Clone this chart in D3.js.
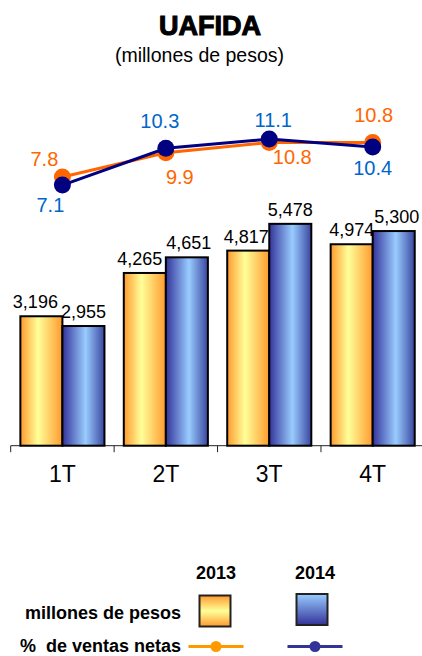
<!DOCTYPE html>
<html>
<head>
<meta charset="utf-8">
<script src="https://cdn.jsdelivr.net/npm/d3@7"></script>
<style>
  html, body { margin: 0; padding: 0; background: #fff; }
  svg { display: block; font-family: "Liberation Sans", Arial, sans-serif; }
</style>
</head>
<body>
<svg id="chart" width="422" height="656"></svg>
<script>
// ---- data ----
const categories = ["1T", "2T", "3T", "4T"];
const years = ["2013", "2014"];
const amounts2013 = [3196, 4265, 4817, 4974];
const amounts2014 = [2955, 4651, 5478, 5300];
const pct2013 = [7.8, 9.9, 10.8, 10.8];
const pct2014 = [7.1, 10.3, 11.1, 10.4];
const amountLabels2013 = ["3,196", "4,265", "4,817", "4,974"];
const amountLabels2014 = ["2,955", "4,651", "5,478", "5,300"];

// ---- layout (label placement offsets, not data) ----
const pctLabelOffset2013 = [[-18, -11], [14, 31], [23, 21], [1, -21]];
const pctLabelOffset2014 = [[-12, 27], [-6, -20], [4, -12], [0, 28]];
const amtLabelDx2013 = [-6, -5, -2, 0];
const amtLabelDx2014 = [0, 2, 0, 3];

const svg = d3.select("#chart");
const defs = svg.append("defs");

function hGrad(id, stops) {
  const g = defs.append("linearGradient").attr("id", id)
    .attr("x1", "0%").attr("y1", "0%").attr("x2", "100%").attr("y2", "0%");
  stops.forEach(s => g.append("stop").attr("offset", s[0]).attr("stop-color", s[1]));
}
function vGrad(id, stops) {
  const g = defs.append("linearGradient").attr("id", id)
    .attr("x1", "0%").attr("y1", "0%").attr("x2", "0%").attr("y2", "100%");
  stops.forEach(s => g.append("stop").attr("offset", s[0]).attr("stop-color", s[1]));
}
hGrad("gOrange", [["0%", "#FF9A2E"], ["42%", "#FFFF99"], ["100%", "#FF9A2E"]]);
hGrad("gBlue", [["0%", "#333399"], ["55%", "#99CCFF"], ["100%", "#3A46A0"]]);
vGrad("gOrangeV", [["0%", "#FF9A2E"], ["50%", "#FFFF99"], ["100%", "#FF9A2E"]]);
vGrad("gBlueV", [["0%", "#99CCFF"], ["100%", "#333399"]]);

// ---- title ----
svg.append("text").attr("x", 210).attr("y", 34.5).attr("text-anchor", "middle")
  .attr("font-size", 27).attr("font-weight", "bold")
  .attr("stroke", "#000").attr("stroke-width", 1.1).attr("fill", "#000")
  .text("UAFIDA");
svg.append("text").attr("x", 199.5).attr("y", 61.5).attr("text-anchor", "middle")
  .attr("font-size", 19.5).attr("fill", "#000")
  .text("(millones de pesos)");

// ---- scales ----
const x = d3.scaleBand().domain(categories).range([10.7, 424.4]).padding(0);
const xSub = d3.scaleBand().domain(years).range([0, x.bandwidth()])
  .paddingInner(0).paddingOuter(0.23);
const yBar = d3.scaleLinear().domain([0, 6000]).range([445.7, 202.7]);
const yPct = d3.scaleLinear().domain([0, 14]).range([266.7, 105.7]);

// ---- axis ----
const axisG = svg.append("g").attr("transform", `translate(0,${yBar(0)})`);
axisG.append("line").attr("x1", 10.7).attr("x2", 422).attr("y1", 0).attr("y2", 0)
  .attr("stroke", "#222").attr("stroke-width", 1);
axisG.selectAll("line.tick").data(categories).enter().append("line")
  .attr("class", "tick")
  .attr("x1", d => x(d)).attr("x2", d => x(d)).attr("y1", 0).attr("y2", 6.5)
  .attr("stroke", "#222").attr("stroke-width", 1);
axisG.selectAll("text.cat").data(categories).enter().append("text")
  .attr("class", "cat")
  .attr("x", d => x(d) + x.bandwidth() / 2).attr("y", 36.6)
  .attr("text-anchor", "middle").attr("font-size", 23).attr("fill", "#000")
  .text(d => d);

// ---- bars ----
const barSeries = [
  { year: "2013", values: amounts2013, labels: amountLabels2013, fill: "url(#gOrange)", dx: amtLabelDx2013 },
  { year: "2014", values: amounts2014, labels: amountLabels2014, fill: "url(#gBlue)", dx: amtLabelDx2014 }
];
barSeries.forEach(s => {
  const g = svg.append("g");
  g.selectAll("rect").data(s.values).enter().append("rect")
    .attr("x", (d, i) => x(categories[i]) + xSub(s.year))
    .attr("y", d => yBar(d))
    .attr("width", xSub.bandwidth())
    .attr("height", d => yBar(0) - yBar(d))
    .attr("fill", s.fill).attr("stroke", "#000").attr("stroke-width", 2);
  g.selectAll("text").data(s.values).enter().append("text")
    .attr("x", (d, i) => x(categories[i]) + xSub(s.year) + xSub.bandwidth() / 2 + s.dx[i])
    .attr("y", d => yBar(d) - 8)
    .attr("text-anchor", "middle").attr("font-size", 18).attr("fill", "#000")
    .text((d, i) => s.labels[i]);
});

// ---- lines ----
const cx = c => x(c) + x.bandwidth() / 2;
const lineSeries = [
  { values: pct2013, color: "#FF6600", text: "#FF6600", off: pctLabelOffset2013 },
  { values: pct2014, color: "#000080", text: "#0066CC", off: pctLabelOffset2014 }
];
const lineGen = d3.line().x((d, i) => cx(categories[i])).y(d => yPct(d));
lineSeries.forEach(s => {
  const g = svg.append("g");
  g.append("path").datum(s.values).attr("d", lineGen)
    .attr("fill", "none").attr("stroke", s.color).attr("stroke-width", 3);
  g.selectAll("circle").data(s.values).enter().append("circle")
    .attr("cx", (d, i) => cx(categories[i])).attr("cy", d => yPct(d)).attr("r", 8.5)
    .attr("fill", s.color);
});
lineSeries.forEach(s => {
  svg.append("g").selectAll("text").data(s.values).enter().append("text")
    .attr("x", (d, i) => cx(categories[i]) + s.off[i][0])
    .attr("y", (d, i) => yPct(d) + s.off[i][1])
    .attr("text-anchor", "middle").attr("font-size", 20).attr("fill", s.text)
    .text(d => d.toFixed(1));
});

// ---- legend ----
const lg = svg.append("g");
const legendCols = [
  { year: years[0], cx: 216, sq: "url(#gOrangeV)", line: "#FF9900" },
  { year: years[1], cx: 315, sq: "url(#gBlueV)", line: "#333399" }
];
legendCols.forEach((c, i) => {
  lg.append("text").attr("x", c.cx).attr("y", 578.5).attr("text-anchor", "middle")
    .attr("font-size", 18).attr("font-weight", "bold").attr("fill", "#000").text(c.year);
  lg.append("rect").attr("x", c.cx - 15.5 - (i === 0 ? 1 : 3)).attr("y", i === 0 ? 595.5 : 594)
    .attr("width", 31).attr("height", 31)
    .attr("fill", c.sq).attr("stroke", "#222").attr("stroke-width", 2);
  lg.append("line").attr("x1", c.cx - 27.5).attr("x2", c.cx + 27.5)
    .attr("y1", 646.5).attr("y2", 646.5).attr("stroke", c.line).attr("stroke-width", 3);
  lg.append("circle").attr("cx", c.cx).attr("cy", 646.5).attr("r", 5.5).attr("fill", c.line);
});
lg.append("text").attr("x", 181).attr("y", 618.5).attr("text-anchor", "end")
  .attr("font-size", 18).attr("font-weight", "bold").attr("fill", "#000")
  .text("millones de pesos");
lg.append("text").attr("x", 181).attr("y", 651.5).attr("text-anchor", "end")
  .attr("font-size", 18).attr("font-weight", "bold").attr("fill", "#000")
  .attr("xml:space", "preserve").style("white-space", "pre")
  .text("%  de ventas netas");
</script>
</body>
</html>
